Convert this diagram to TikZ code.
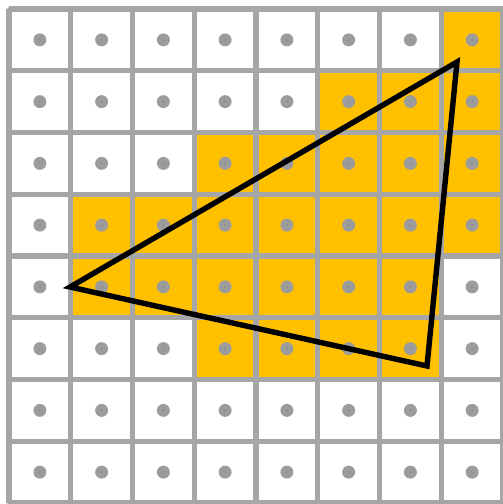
\documentclass[tikz,border=0pt]{standalone}
\usepackage{xcolor}
\usepackage{tikz}
\usetikzlibrary{calc}

\definecolor{gridgray}{HTML}{A6A6A6}
\definecolor{dotgray}{HTML}{9C9C9C}
\definecolor{covered}{HTML}{FFC000}

\begin{document}
\begin{tikzpicture}[
  yscale=-1,
  cell/.style={fill=covered},
  gridline/.style={draw=gridgray, line width=2.4pt, line join=round},
  sample/.style={fill=dotgray},
  tri/.style={draw=black, line width=2.5pt, line join=miter},
]
  \useasboundingbox (-0.146,-0.146) rectangle (7.984,8.016);

  % covered pixels, row by row
  \foreach \r/\a/\b in {0/7/7, 1/5/7, 2/3/7, 3/1/7, 4/1/6, 5/3/6}
    \fill[cell] (\a,\r) rectangle (\b+1,\r+1);

  % pixel grid
  \draw[gridline] (0,0) grid (8,8);
  \draw[gridline, rounded corners=1pt] (0,0) rectangle (8,8);

  % sample points at pixel centres
  \foreach \x in {0,...,7}
    \foreach \y in {0,...,7} {
      \fill[sample] (\x+0.5,\y+0.5) circle (0.105);
      \fill[black!45] (\x+0.5,\y+0.5) circle (0.02);
    }

  % triangle
  \coordinate (apex) at (7.255,0.858);
  \coordinate (left) at (0.988,4.502);
  \coordinate (foot) at (6.769,5.781);
  \draw[tri] (apex) -- (left) -- (foot) -- cycle;
\end{tikzpicture}
\end{document}
